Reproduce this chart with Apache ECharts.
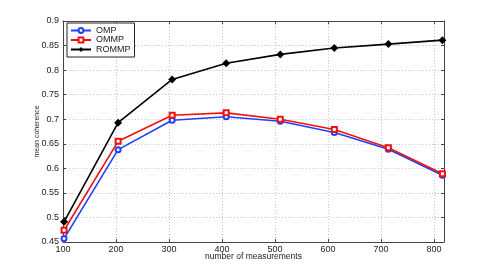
<!DOCTYPE html>
<html><head><meta charset="utf-8">
<script src="https://cdn.jsdelivr.net/npm/echarts@6/dist/echarts.min.js"></script>
<style>html,body{margin:0;padding:0;background:#fff}#c{width:491px;height:273px}</style>
</head><body><div id="c"></div>
<script>
const measurements = [102, 204, 306, 408, 510, 612, 714, 816];
const omp   = [0.457, 0.638, 0.698, 0.705, 0.696, 0.673, 0.639, 0.586];
const ommp  = [0.474, 0.655, 0.708, 0.713, 0.700, 0.679, 0.642, 0.589];
const rommp = [0.491, 0.693, 0.781, 0.814, 0.832, 0.845, 0.853, 0.861];
const seriesNames = ['OMP', 'OMMP', 'ROMMP'];
const xLabel = 'number of measurements';
const yLabel = 'mean coherence';

const pair = v => measurements.map((x, i) => [x, v[i]]);
const font = 'Liberation Sans, Arial, sans-serif';
const chart = echarts.init(document.getElementById('c'));
const axisLine = {show: true, lineStyle: {color: '#444', width: 1}};
const tick = {show: true, inside: true, length: 3, lineStyle: {color: '#444'}};
const grid = {show: true, lineStyle: {color: '#c4c4c4', type: [1, 2], width: 1}};
function mk(name, data, color, symbol, size) {
  return {name, type: 'line', data: pair(data), symbol, symbolSize: size,
    showAllSymbol: true,
    lineStyle: {color, width: 1.6}, itemStyle: {color, borderColor: color, borderWidth: 1.4},
    emphasis: {disabled: true}, animation: false};
}
chart.setOption({
  animation: false,
  grid: {left: 63, right: 47, top: 21, bottom: 31, show: false},
  legend: {
    orient: 'vertical', left: 67, top: 23, itemWidth: 20, itemHeight: 6, itemGap: 0.5,
    padding: [3, 4, 3, 3], borderColor: '#222', borderWidth: 1, backgroundColor: '#fff',
    textStyle: {fontFamily: font, fontSize: 9, lineHeight: 7, color: '#222', padding: [0, 0, 0, 0]},
    data: seriesNames.map(n => ({name: n, itemStyle: {borderWidth: 0}}))
  },
  xAxis: [{
    type: 'value', min: 100, max: 819, interval: 100,
    axisLine, axisTick: tick, splitLine: grid,
    axisLabel: {fontFamily: font, fontSize: 9, color: '#222', margin: 3, showMaxLabel: false,
      formatter: v => (v % 100 === 0 ? String(v) : '')},
    name: xLabel, nameLocation: 'middle', nameGap: 10, nameMoveOverlap: false,
    nameTextStyle: {fontFamily: font, fontSize: 8.5, color: '#222'}
  }, {
    type: 'value', position: 'top', min: 100, max: 819, interval: 100,
    axisLine, axisTick: tick, axisLabel: {show: false}, splitLine: {show: false}
  }],
  yAxis: [{
    type: 'value', min: 0.45, max: 0.9, interval: 0.05,
    axisLine, axisTick: tick, splitLine: grid,
    axisLabel: {fontFamily: font, fontSize: 9, color: '#222', margin: 4,
      formatter: v => String(Math.round(v * 100) / 100)},
    name: yLabel, nameLocation: 'middle', nameGap: 22, nameMoveOverlap: false,
    nameTextStyle: {fontFamily: font, fontSize: 7, color: '#222'}
  }, {
    type: 'value', position: 'right', min: 0.45, max: 0.9, interval: 0.05,
    axisLine, axisTick: tick, axisLabel: {show: false}, splitLine: {show: false}
  }],
  series: [
    mk(seriesNames[0], omp, '#2040ff', 'emptyCircle', 5),
    mk(seriesNames[1], ommp, '#f01010', 'emptyRect', 5),
    mk(seriesNames[2], rommp, '#000000', 'diamond', 6)
  ]
});
</script></body></html>
